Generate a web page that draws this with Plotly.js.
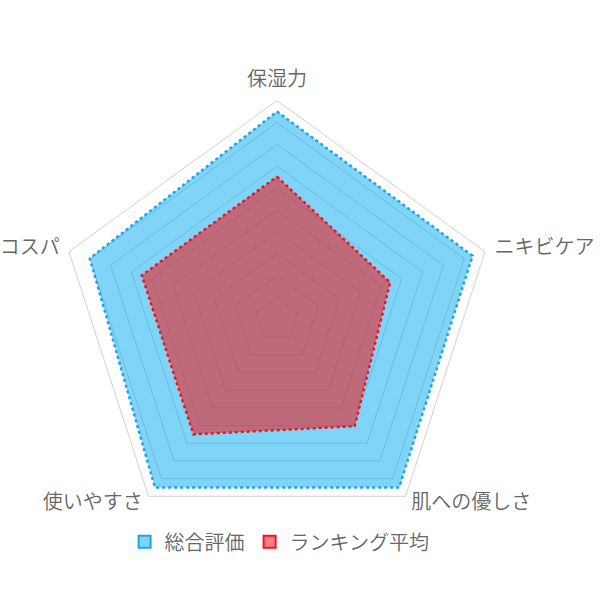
<!DOCTYPE html>
<html>
<head>
<meta charset="utf-8">
<script src="https://cdn.plot.ly/plotly-3.0.1.min.js"></script>
<style>html,body{margin:0;padding:0;background:#fff}#chart{width:600px;height:600px}</style>
</head>
<body>
<div id="chart"></div>
<script>
const categories = ["保湿力", "ニキビケア", "肌への優しさ", "使いやすさ", "コスパ"];
const seriesNames = ["総合評価", "ランキング平均"];
const overallScores = [4.75, 4.7, 4.75, 4.75, 4.5];
const averageScores = [3.26, 2.72, 3.02, 3.25, 3.25];
const gridValues = [0.5, 1, 1.5, 2, 2.5, 3, 3.5, 4, 4.5, 5];

const scaleMax = 5;
const labelR = scaleMax * 1.045;
const labelPositions = ["top center", "middle right", "middle right", "middle left", "middle left"];

const closeLoop = a => a.concat([a[0]]);
const theta = closeLoop(categories);
const FONT = "'Noto Sans CJK JP DemiLight', 'Noto Sans CJK JP', 'Noto Sans', sans-serif";

const traces = [
  {
    type: "scatterpolar", r: closeLoop(overallScores), theta: theta,
    mode: "lines", fill: "toself", name: seriesNames[0], showlegend: false,
    fillcolor: "rgba(0,170,240,0.5)",
    line: {color: "#1fa3e6", width: 2.5, dash: "dot"},
    hoverinfo: "skip"
  },
  {
    type: "scatterpolar", r: closeLoop(averageScores), theta: theta,
    mode: "lines", fill: "toself", name: seriesNames[1], showlegend: false,
    fillcolor: "rgba(255,0,0,0.5)",
    line: {color: "#f0141e", width: 2.5, dash: "dot"},
    hoverinfo: "skip"
  },
  {
    type: "scatterpolar", r: categories.map(() => labelR), theta: categories,
    mode: "text", text: categories, textposition: labelPositions,
    textfont: {family: FONT, size: 20, color: "#666", weight: 300},
    showlegend: false, hoverinfo: "skip", cliponaxis: false
  },
  {
    type: "scatterpolar", r: [null], theta: [categories[0]], mode: "markers",
    name: seriesNames[0],
    marker: {symbol: "square", size: 12, color: "rgba(0,170,240,0.5)", line: {color: "#1fa3e6", width: 2}}
  },
  {
    type: "scatterpolar", r: [null], theta: [categories[0]], mode: "markers",
    name: seriesNames[1],
    marker: {symbol: "square", size: 12, color: "rgba(255,0,0,0.5)", line: {color: "#f0141e", width: 2}}
  }
];

const layout = {
  width: 600, height: 600,
  margin: {l: 0, r: 0, t: 0, b: 0},
  paper_bgcolor: "#fff",
  font: {family: FONT, size: 20, color: "#666"},
  showlegend: true,
  legend: {orientation: "h", x: 0.466, xanchor: "center", y: 0.097, yanchor: "middle",
           font: {family: FONT, size: 20, color: "#666", weight: 300}, itemwidth: 30},
  polar: {
    domain: {x: [0.0607, 0.8627], y: [0.0668, 0.8688]},
    gridshape: "linear",
    bgcolor: "rgba(0,0,0,0)",
    radialaxis: {range: [0, 5.5], tickmode: "array", tickvals: gridValues,
                 showticklabels: false, ticks: "",
                 showline: false, gridcolor: "rgba(0,0,0,0.18)", gridwidth: 1},
    angularaxis: {direction: "clockwise", rotation: 90, showgrid: false, ticks: "",
                  showline: false, showticklabels: false}
  }
};

Plotly.newPlot("chart", traces, layout, {staticPlot: true, displayModeBar: false});
</script>
</body>
</html>
